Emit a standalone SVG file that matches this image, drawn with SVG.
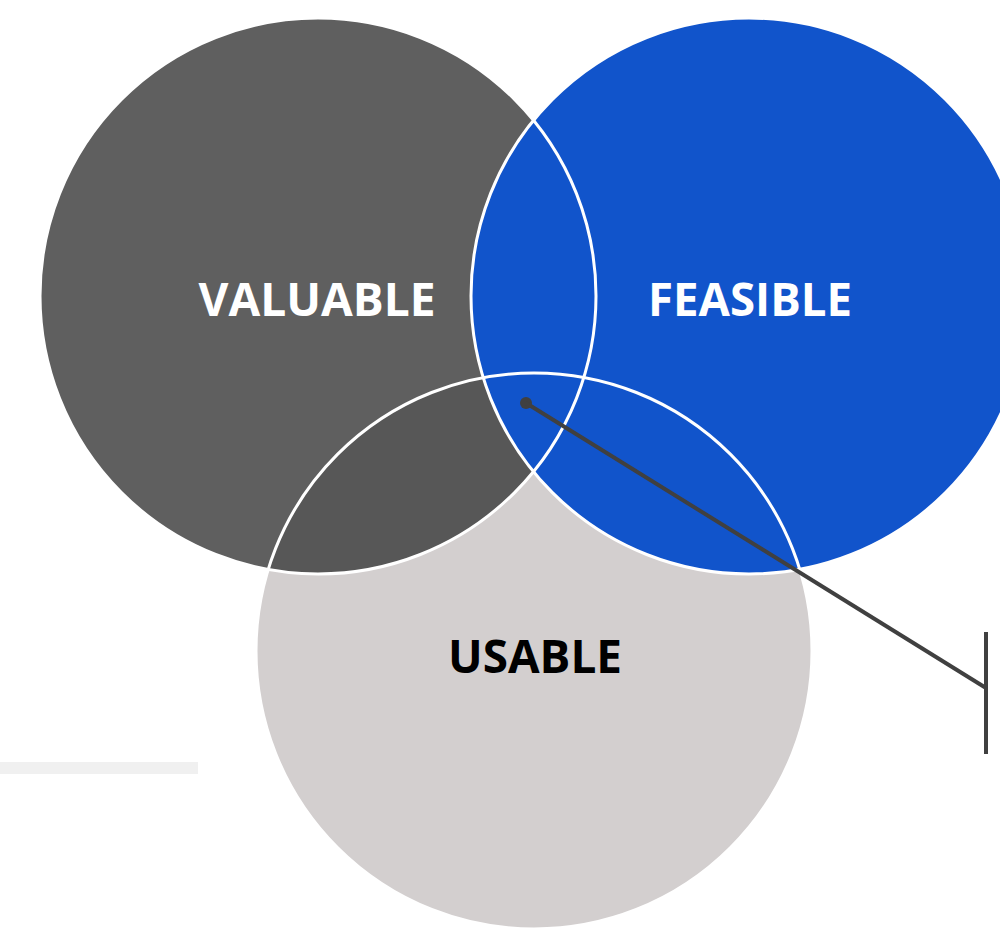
<svg xmlns="http://www.w3.org/2000/svg" width="1000" height="928" viewBox="0 0 1000 928">
<style>
.lbl{font-family:"Open Sans","Liberation Sans",sans-serif;font-weight:bold;font-size:46px;text-anchor:middle}
.ring{fill:none;stroke:#ffffff;stroke-width:3}
</style>
<defs>
<clipPath id="clipU"><circle cx="534" cy="651" r="278"/></clipPath>
</defs>
<rect width="1000" height="928" fill="#ffffff"/>
<rect x="0" y="762" width="198" height="12" fill="#f0f0f0"/>
<g id="usable">
<circle cx="534" cy="651" r="278" fill="#d3cfcf"/>
</g>
<g id="valuable">
<circle cx="318" cy="296" r="278" fill="#5f5f5f"/>
<circle cx="318" cy="296" r="278" fill="#575757" clip-path="url(#clipU)"/>
</g>
<g id="feasible">
<circle cx="749" cy="296" r="278" fill="#1154cb"/>
</g>
<g id="outlines">
<circle class="ring" cx="318" cy="296" r="278"/>
<circle class="ring" cx="749" cy="296" r="278"/>
<circle class="ring" cx="534" cy="651" r="278"/>
</g>
<g id="labels">
<text class="lbl" x="317" y="316" fill="#ffffff" textLength="237" lengthAdjust="spacingAndGlyphs">VALUABLE</text>
<text class="lbl" x="750" y="316" fill="#ffffff" textLength="204" lengthAdjust="spacingAndGlyphs">FEASIBLE</text>
<text class="lbl" x="535" y="673" fill="#000000" textLength="174" lengthAdjust="spacingAndGlyphs">USABLE</text>
</g>
<g id="connectors">
<circle cx="526" cy="403" r="6" fill="#404040"/>
<line x1="526" y1="403" x2="986" y2="688" stroke="#404040" stroke-width="4"/>
<line x1="986" y1="632" x2="986" y2="754" stroke="#404040" stroke-width="4"/>
</g>
</svg>
